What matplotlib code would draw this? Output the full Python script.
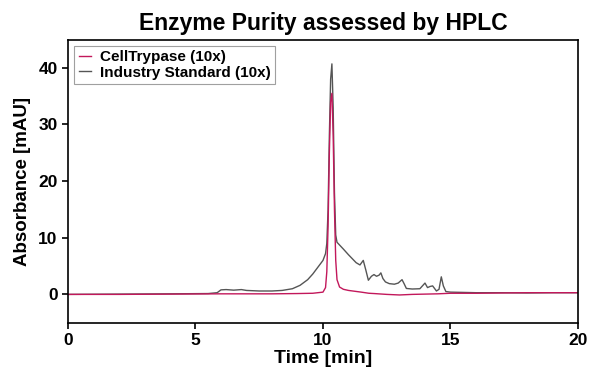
import matplotlib.pyplot as plt

plt.rcParams['font.family'] = ['Liberation Sans', 'DejaVu Sans']
plt.rcParams['font.weight'] = 'bold'

# industry standard trace (time in min, absorbance in mAU)
gray_t = [0, 2, 4, 5.5, 5.85, 6.0, 6.2, 6.5, 6.8, 7.0, 7.5, 8.0, 8.4, 8.8,
          9.1, 9.4, 9.6, 9.8, 10.0, 10.1, 10.15, 10.2, 10.25, 10.3, 10.35,
          10.4, 10.45, 10.5, 10.55, 10.8, 11.0, 11.3, 11.45, 11.58, 11.68,
          11.78, 11.9, 12.0, 12.1, 12.2, 12.27, 12.35, 12.45, 12.6, 12.8,
          12.95, 13.1, 13.18, 13.27, 13.5, 13.8, 13.92, 14.0, 14.1, 14.2,
          14.3, 14.45, 14.55, 14.64, 14.72, 14.82, 15.0, 15.5, 16, 17, 18, 19, 20]
gray_y = [0.0, 0.05, 0.1, 0.15, 0.3, 0.8, 0.85, 0.75, 0.85, 0.7, 0.6, 0.6,
          0.7, 1.0, 1.6, 2.6, 3.6, 4.8, 6.0, 7.2, 9.0, 15, 28, 38, 40.7,
          33, 18, 10.5, 9.2, 8.0, 7.0, 5.6, 5.2, 6.0, 4.3,
          2.5, 3.2, 3.5, 3.2, 3.4, 3.8, 2.8, 2.2, 1.9, 1.8,
          2.0, 2.6, 1.9, 1.05, 0.95, 1.0, 1.6, 2.0, 1.2, 1.4,
          1.5, 0.6, 0.9, 3.1, 1.5, 0.5, 0.4, 0.35, 0.3, 0.3, 0.25, 0.3, 0.3]

# CellTrypase trace
red_t = [0, 2, 4, 6, 8, 9, 9.6, 10.0, 10.1, 10.15, 10.2, 10.25, 10.3, 10.35,
         10.4, 10.45, 10.5, 10.55, 10.65, 10.8, 11.0, 11.5, 11.8, 12.0, 12.5,
         13.0, 13.5, 14.0, 14.5, 15, 16, 17, 18, 19, 20]
red_y = [0.0, 0.0, 0.05, 0.1, 0.1, 0.15, 0.2, 0.4, 1.2, 4, 12, 25, 34, 35.5,
         28, 15, 6, 2.6, 1.3, 0.9, 0.7, 0.4, 0.2, 0.15, 0.0,
         -0.1, 0.0, 0.05, 0.1, 0.2, 0.2, 0.25, 0.3, 0.3, 0.3]

fig = plt.figure(figsize=(6, 3.89), dpi=100)
ax = fig.add_axes([0.1133, 0.1704, 0.85, 0.728])

l2, = ax.plot(gray_t, gray_y, color='#555555', lw=1.0, label='Industry Standard (10x)')
l1, = ax.plot(red_t, red_y, color='#c2185b', lw=1.0, label='CellTrypase (10x)')

ax.set_xlim(0, 20)
ax.set_ylim(-5, 45)
ax.set_xticks([0, 5, 10, 15, 20])
ax.set_yticks([0, 10, 20, 30, 40])
ax.tick_params(labelsize=12.5, width=1.2, length=4)
for s in ax.spines.values():
    s.set_linewidth(1.2)

ax.set_xlabel('Time [min]', fontsize=14, fontweight='bold', labelpad=1)
ax.set_ylabel('Absorbance [mAU]', fontsize=13.5, fontweight='bold', labelpad=5)
ax.set_title('Enzyme Purity assessed by HPLC', fontsize=16.5, fontweight='bold', pad=7)

leg = ax.legend(handles=[l1, l2], loc='upper left', fontsize=11, fancybox=False,
                handlelength=0.8, handletextpad=0.6, borderpad=0.3,
                labelspacing=0.1, borderaxespad=0.4, edgecolor='#888888')
leg.get_frame().set_linewidth(0.8)

plt.savefig('out.png', dpi=100)
